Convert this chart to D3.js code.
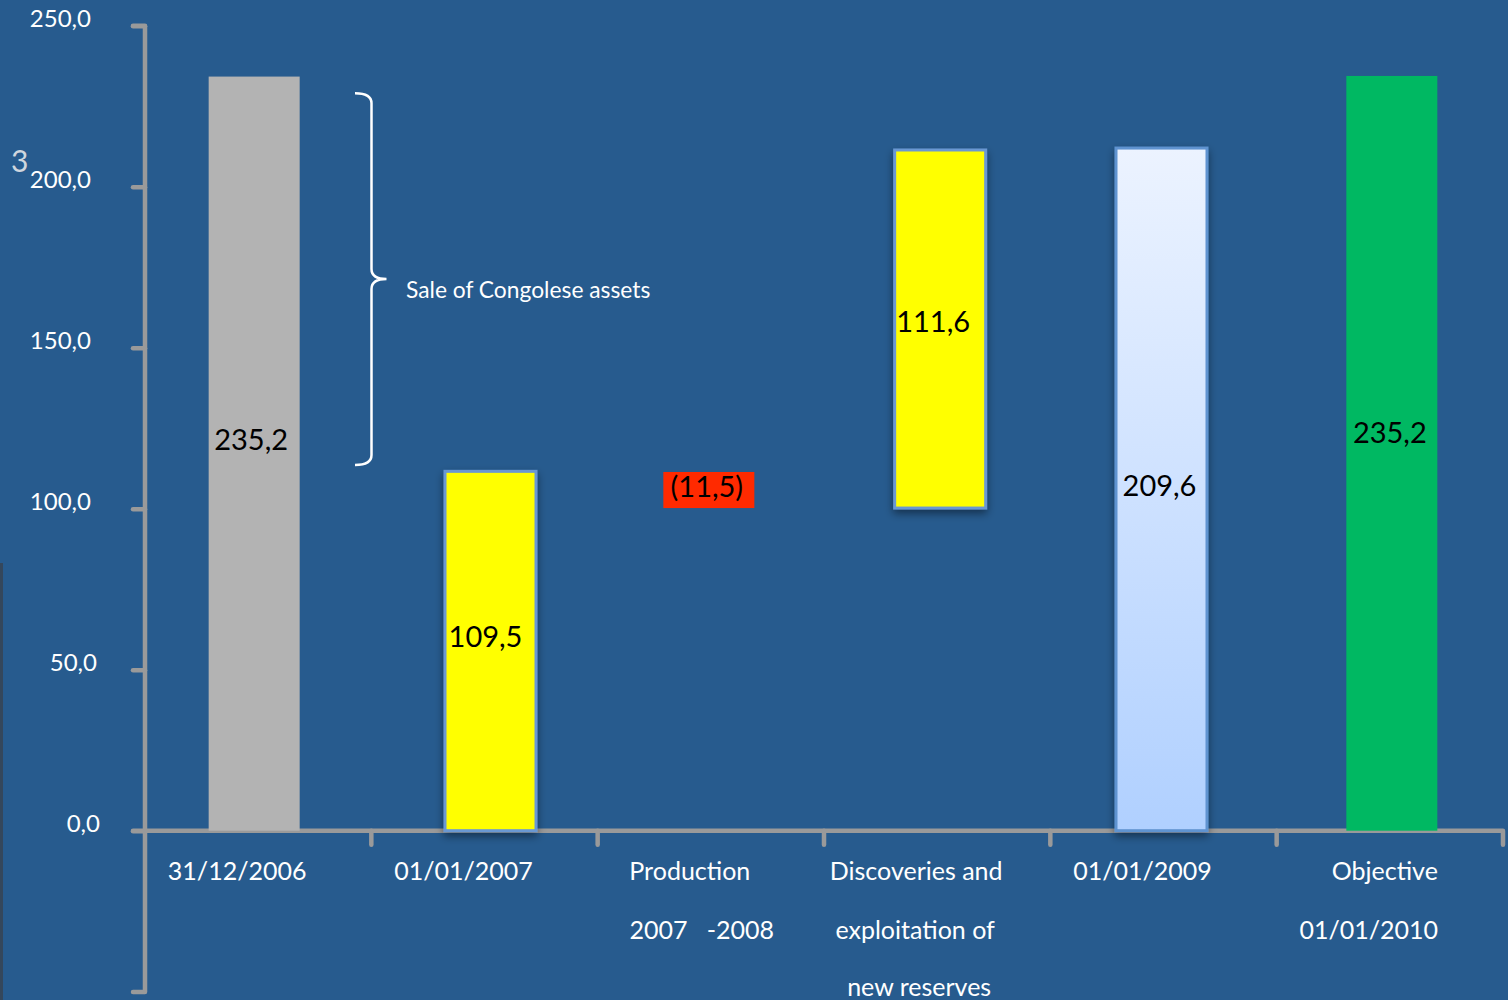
<!DOCTYPE html>
<html>
<head>
<meta charset="utf-8">
<script src="https://cdn.jsdelivr.net/npm/d3@7"></script>
<style>
  html, body { margin: 0; padding: 0; background: #275b8e; }
  svg { display: block; }
  text { font-family: Lato, "Open Sans", sans-serif; }
</style>
</head>
<body>
<svg id="chart" width="1508" height="1000"></svg>
<script>
// ---- data ----
const categories = ["31/12/2006", "01/01/2007", "Production 2007-2008", "Discoveries", "01/01/2009", "Objective"];
const categoryLines = [
  ["31/12/2006"],
  ["01/01/2007"],
  ["Production", "2007   -2008"],
  ["Discoveries and", "exploitation of", "new reserves"],
  ["01/01/2009"],
  ["Objective", "01/01/2010"]
];
const barBase = [0, 0, 100.2, 100.2, 0, 0];
const barTop = [234.2, 111.6, 111.4, 211.4, 212.0, 234.4];
const barLabels = ["235,2", "109,5", "(11,5)", "111,6", "209,6", "235,2"];
const yTicks = [0, 50, 100, 150, 200, 250];
const yTickLabels = ["0,0", "50,0", "100,0", "150,0", "200,0", "250,0"];
const braceRange = [113.6, 229.0];
const braceText = "Sale of Congolese assets";

// ---- styles / layout tweaks ----
const barFill = ["#b3b3b3", "#ffff00", "#ff2a00", "#ffff00", "url(#grad2009)", "#00b862"];
const barStroke = [null, "#6a98d2", null, "#6a98d2", "#5f93d0", null];
const barShift = [-4, 6, -2, 3, -2, 2];
const labelShiftX = [-7, 1, -4, -4, -4, 0];
const labelShiftY = [-15, -16, -5, -9, -5, -22];
const lineShiftX = [[0], [0], [0, 12], [0, -1, 3], [0], [16, 0]];
const lineY = [870, 929, 986];

const svg = d3.select("#chart");
const defs = svg.append("defs");
const grad = defs.append("linearGradient").attr("id", "grad2009")
  .attr("x1", 0).attr("y1", 0).attr("x2", 0).attr("y2", 1);
grad.append("stop").attr("offset", "0%").attr("stop-color", "#ecf3ff");
grad.append("stop").attr("offset", "100%").attr("stop-color", "#b0d0ff");
const flt = defs.append("filter").attr("id", "shadow")
  .attr("x", "-20%").attr("y", "-10%").attr("width", "140%").attr("height", "130%");
flt.append("feDropShadow").attr("dx", 0).attr("dy", 4).attr("stdDeviation", 4)
  .attr("flood-color", "#000").attr("flood-opacity", 0.45);

svg.append("rect").attr("width", 1508).attr("height", 1000).attr("fill", "#275b8e");
// dark edge strip at left
svg.append("rect").attr("x", 0).attr("y", 563).attr("width", 3).attr("height", 437).attr("fill", "#34475c");

const y = d3.scaleLinear().domain([0, 250]).range([830.7, 25.7]);
const x = d3.scaleBand().domain(categories).range([145, 1503]).padding(0);
const barW = 91;

const axisColor = "#9a9a9a";

// y axis
const yAxis = d3.axisLeft(y).tickValues(yTicks).tickSize(12).tickPadding(42)
  .tickFormat((d, i) => yTickLabels[i]);
const gy = svg.append("g").attr("transform", "translate(145,0)").call(yAxis);
gy.select(".domain").remove();
gy.selectAll(".tick line").attr("stroke", axisColor).attr("stroke-width", 4.5).attr("stroke-linecap", "round");
gy.selectAll(".tick text").attr("fill", "#ffffff").style("font-size", "24px")
  .attr("dy", "0.32em").attr("y", -7)
  .attr("x", (d) => d === 0 ? -45 : (d === 50 ? -48 : -54));
// y axis vertical line (extends below zero)
svg.append("path")
  .attr("d", `M133,992 H145 V${y(250)} H133`)
  .attr("fill", "none").attr("stroke", axisColor).attr("stroke-width", 4.5)
  .attr("stroke-linejoin", "round").attr("stroke-linecap", "round");

// x axis
const boundaries = categories.map(c => x(c) + x.bandwidth());
const xAxis = d3.axisBottom(x).tickSize(0).tickFormat("");
const gx = svg.append("g").attr("transform", `translate(0,${y(0)})`).call(xAxis);
gx.selectAll(".tick").remove();
gx.select(".domain").attr("d", `M133,0 H${x.range()[1]} V14`)
  .attr("fill", "none").attr("stroke", axisColor).attr("stroke-width", 4.5)
  .attr("stroke-linejoin", "round").attr("stroke-linecap", "round");
gx.selectAll("line.bound").data(boundaries.slice(0, -1)).join("line").attr("class", "bound")
  .attr("x1", d => d).attr("x2", d => d).attr("y1", 0).attr("y2", 14)
  .attr("stroke", axisColor).attr("stroke-width", 4.5).attr("stroke-linecap", "round");

// x labels
const xl = svg.append("g");
categories.forEach((c, i) => {
  const cx = x(c) + x.bandwidth() / 2 - 21;
  categoryLines[i].forEach((line, j) => {
    xl.append("text").attr("x", cx + lineShiftX[i][j]).attr("y", lineY[j])
      .attr("text-anchor", "middle").attr("dominant-baseline", "central")
      .style("white-space", "pre")
      .attr("fill", "#ffffff").style("font-size", "25px").text(line);
  });
});

// bars
const barsData = categories.map((c, i) => ({c, i, base: barBase[i], top: barTop[i]}));
svg.append("g").selectAll("rect").data(barsData).join("rect")
  .attr("x", d => x(d.c) + x.bandwidth() / 2 - barW / 2 + barShift[d.i])
  .attr("y", d => y(d.top))
  .attr("width", barW)
  .attr("height", d => y(d.base) - y(d.top))
  .attr("fill", d => barFill[d.i])
  .attr("stroke", d => barStroke[d.i] || "none")
  .attr("stroke-width", d => barStroke[d.i] ? 3 : 0)
  .attr("filter", d => barStroke[d.i] ? "url(#shadow)" : null);

// bar labels
svg.append("g").selectAll("text").data(barsData).join("text")
  .attr("x", d => x(d.c) + x.bandwidth() / 2 + labelShiftX[d.i])
  .attr("y", d => (y(d.base) + y(d.top)) / 2 + labelShiftY[d.i])
  .attr("text-anchor", "middle").attr("dominant-baseline", "central")
  .attr("fill", "#000000").style("font-size", "29px").text(d => barLabels[d.i]);

// brace
const bx = 371.5, by0 = y(braceRange[1]), by1 = y(braceRange[0]);
const bm = (by0 + by1) / 2;
svg.append("path")
  .attr("d", `M355,${by0} Q${bx},${by0} ${bx},${by0 + 10} V${bm - 10} Q${bx},${bm} ${bx + 15},${bm} Q${bx},${bm} ${bx},${bm + 10} V${by1 - 10} Q${bx},${by1} 355,${by1}`)
  .attr("fill", "none").attr("stroke", "#ffffff").attr("stroke-width", 2.5);
svg.append("text").attr("x", 406).attr("y", bm + 10)
  .attr("dominant-baseline", "central").attr("fill", "#ffffff")
  .style("font-size", "22.8px").text(braceText);

// stray "3" marker
svg.append("text").attr("x", 11).attr("y", 160).attr("dominant-baseline", "central")
  .attr("fill", "#cfd6de").style("font-size", "30px").text("3");
</script>
</body>
</html>
